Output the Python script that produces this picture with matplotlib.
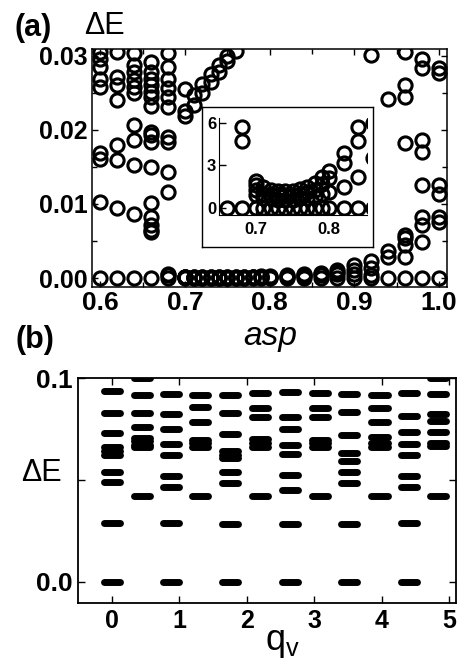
import numpy as np
import matplotlib
matplotlib.use("Agg")
import matplotlib.pyplot as plt
from matplotlib.ticker import MultipleLocator

plt.rcParams["font.family"] = ["Liberation Sans", "DejaVu Sans"]
plt.rcParams["mathtext.default"] = "regular"

# ── Panel (a) data: excitation gaps vs aspect ratio (units of 1e-3) ─────────
asp_a = [0.60, 0.62, 0.64, 0.66, 0.68, 0.70, 0.71, 0.72, 0.73, 0.74, 0.75,
         0.76, 0.77, 0.78, 0.79, 0.80, 0.82, 0.84, 0.86, 0.88, 0.90, 0.92,
         0.94, 0.96, 0.98, 1.00]
dE_a = [
    [0, 10.3, 16.1, 16.9, 25.8, 26.9, 28.5, 29.6, 30.5],
    [0, 9.4, 15.9, 17.9, 24.0, 26.0, 27.1, 30.5],
    [0, 8.7, 15.2, 18.6, 20.6, 24.9, 25.8, 26.7, 27.8, 28.7, 30.4],
    [0, 6.2, 6.5, 7.1, 8.3, 10.1, 15.0, 18.4, 19.3, 19.7, 23.2, 24.4, 25.1,
     26.0, 26.9, 27.8, 29.2],
    [0, 0.47, 0.57, 11.6, 14.3, 18.4, 19.0, 23.1, 24.4, 25.7, 26.9, 28.5, 30.3],
    [0, 0.09, 0.13, 0.16, 0.19, 21.8, 22.6, 25.5],
    [0, 0.07, 0.10, 0.15, 23.4, 24.7],
    [0, 0.07, 0.10, 0.13, 24.9, 26.2],
    [0, 0.06, 0.09, 0.12, 26.4, 27.5],
    [0, 0.06, 0.09, 0.12, 27.8, 28.7],
    [0, 0.06, 0.09, 0.12, 29.3, 29.9],
    [0, 0.07, 0.10, 0.135, 30.6],
    [0, 0.07, 0.11, 0.15],
    [0, 0.08, 0.13, 0.18],
    [0, 0.10, 0.17, 0.22],
    [0, 0.11, 0.21, 0.26],
    [0, 0.15, 0.32, 0.39],
    [0, 0.22, 0.47, 0.57],
    [0, 0.35, 0.60, 0.75],
    [0, 0.5, 0.8, 1.1],
    [0, 0.6, 1.1, 1.7],
    [0, 0.4, 1.3, 2.3, 30.1],
    [0, 2.8, 3.6, 24.2],
    [0, 2.9, 4.4, 5.4, 5.8, 18.2, 24.4, 26.0, 30.5],
    [0, 4.9, 7.1, 8.3, 12.5, 17.0, 18.6, 28.3, 29.6],
    [0, 7.6, 8.3, 11.4, 12.5, 27.6, 28.3],
]

# ── Panel (b) data: levels per q_v column ───────────────────────────────────
qv_cols = [0.00, 0.44, 0.88, 1.31, 1.75, 2.19, 2.64, 3.09, 3.52, 3.97, 4.41, 4.84]
levels_b = [
    [0, 0.0288, 0.0490, 0.0541, 0.0624, 0.0642, 0.0660, 0.0730, 0.0828, 0.0936],
    [0.0422, 0.0660, 0.0674, 0.0690, 0.0706, 0.0760, 0.0827, 0.0918, 0.1000],
    [0, 0.0288, 0.0467, 0.0520, 0.0621, 0.0678, 0.0748, 0.0822, 0.0922],
    [0.0422, 0.0662, 0.0680, 0.0697, 0.0783, 0.0858, 0.0918],
    [0, 0.0284, 0.0484, 0.0541, 0.0606, 0.0624, 0.0644, 0.0727, 0.0827, 0.0917],
    [0.0422, 0.0664, 0.0682, 0.0700, 0.0809, 0.0855, 0.0925],
    [0, 0.0284, 0.0451, 0.0523, 0.0627, 0.0673, 0.0752, 0.0809, 0.0930],
    [0.0422, 0.0662, 0.0680, 0.0697, 0.0809, 0.0855, 0.0925],
    [0, 0.0284, 0.0484, 0.0541, 0.0593, 0.0634, 0.0721, 0.0835, 0.0922],
    [0.0422, 0.0660, 0.0683, 0.0712, 0.0786, 0.0855, 0.0917],
    [0, 0.0288, 0.0467, 0.0520, 0.0623, 0.0676, 0.0734, 0.0814, 0.0928],
    [0.0422, 0.0665, 0.0683, 0.0737, 0.0789, 0.0825, 0.0922, 0.1000],
]

MK = dict(marker="o", ls="none", ms=9.5, mfc="none", mec="black", mew=2.2)

fig = plt.figure(figsize=(4.61, 6.68), dpi=100)

# ── (a) main ────────────────────────────────────────────────────────────────
ax = fig.add_axes([0.1996, 0.5704, 0.7700, 0.3563])
for x, ys in zip(asp_a, dE_a):
    ys = np.asarray(ys) * 1e-3
    ax.plot(np.full(len(ys), x), ys, **MK)
ax.set_xlim(0.59, 1.0094)
ax.set_ylim(-0.0012, 0.0309)
ax.set_xticks([0.6, 0.7, 0.8, 0.9, 1.0])
ax.set_xticklabels(["0.6", "0.7", "0.8", "0.9", "1.0"])
ax.set_yticks([0.0, 0.01, 0.02, 0.03])
ax.set_yticklabels(["0.00", "0.01", "0.02", "0.03"])
ax.xaxis.set_minor_locator(MultipleLocator(0.05))
ax.yaxis.set_minor_locator(MultipleLocator(0.005))
ax.tick_params(which="both", direction="in", top=True, right=True, width=1)
ax.tick_params(which="major", length=4)
ax.tick_params(which="minor", length=3.5)
ax.tick_params(axis="x", labelsize=19, pad=3)
ax.tick_params(axis="y", labelsize=18, pad=3)
for lab in ax.get_xticklabels() + ax.get_yticklabels():
    lab.set_fontweight("bold")
for sp in ax.spines.values():
    sp.set_linewidth(1.1)

fig.text(33 / 461, 1 - 28 / 668, "(a)", ha="center", va="center",
         fontsize=22, fontweight="bold")
fig.text(104 / 461, 1 - 26 / 668, "ΔE", ha="center", va="center", fontsize=22)
fig.text(270 / 461, 1 - 336 / 668, "asp", ha="center", va="center",
         fontsize=24, style="italic")

# ── (a) inset ───────────────────────────────────────────────────────────────
frame = fig.add_axes([0.4382, 0.6302, 0.3709, 0.2096])
frame.set_xticks([])
frame.set_yticks([])
for sp in frame.spines.values():
    sp.set_linewidth(1.0)

ins = fig.add_axes([0.4751, 0.6781, 0.3210, 0.1452])
ins.patch.set_alpha(0)
for x, ys in zip(asp_a, dE_a):
    ys = np.asarray(ys) * 10
    ins.plot(np.full(len(ys), x), ys, **MK)
ins.set_xlim(0.649, 0.852)
ins.set_ylim(-0.49, 6.34)
ins.spines["top"].set_visible(False)
ins.spines["right"].set_visible(False)
ins.set_xticks([0.7, 0.8])
ins.set_xticklabels(["0.7", "0.8"])
ins.set_yticks([0, 3, 6])
ins.tick_params(direction="in", length=5, width=1, labelsize=12)
ins.tick_params(axis="x", pad=5)
ins.tick_params(axis="y", pad=2)
for lab in ins.get_xticklabels() + ins.get_yticklabels():
    lab.set_fontweight("bold")

# ── (b) ─────────────────────────────────────────────────────────────────────
bx = fig.add_axes([0.1692, 0.0973, 0.8200, 0.3368])
for x, ys in zip(qv_cols, levels_b):
    bx.hlines(ys, x - 0.12, x + 0.12, colors="black", lw=5,
              capstyle="round")
bx.set_xlim(-0.504, 5.104)
bx.set_ylim(-0.0103, 0.1)
bx.set_xticks([0, 1, 2, 3, 4, 5])
bx.set_yticks([0.0, 0.05, 0.1])
bx.set_yticklabels(["0.0", "", "0.1"])
bx.tick_params(direction="in", top=True, right=True, length=5, width=1)
bx.tick_params(axis="x", labelsize=18, pad=4)
bx.tick_params(axis="y", labelsize=19, pad=4)
for lab in bx.get_xticklabels() + bx.get_yticklabels():
    lab.set_fontweight("bold")
for sp in bx.spines.values():
    sp.set_linewidth(1.3)

fig.text(35 / 461, 1 - 340 / 668, "(b)", ha="center", va="center",
         fontsize=22, fontweight="bold")
fig.text(41 / 461, 1 - 473 / 668, "ΔE", ha="center", va="center", fontsize=22)
fig.text(282 / 461, 1 - 650 / 668, r"$\mathregular{q_v}$", ha="center",
         va="baseline", fontsize=26)

fig.savefig("out.png", dpi=100)
